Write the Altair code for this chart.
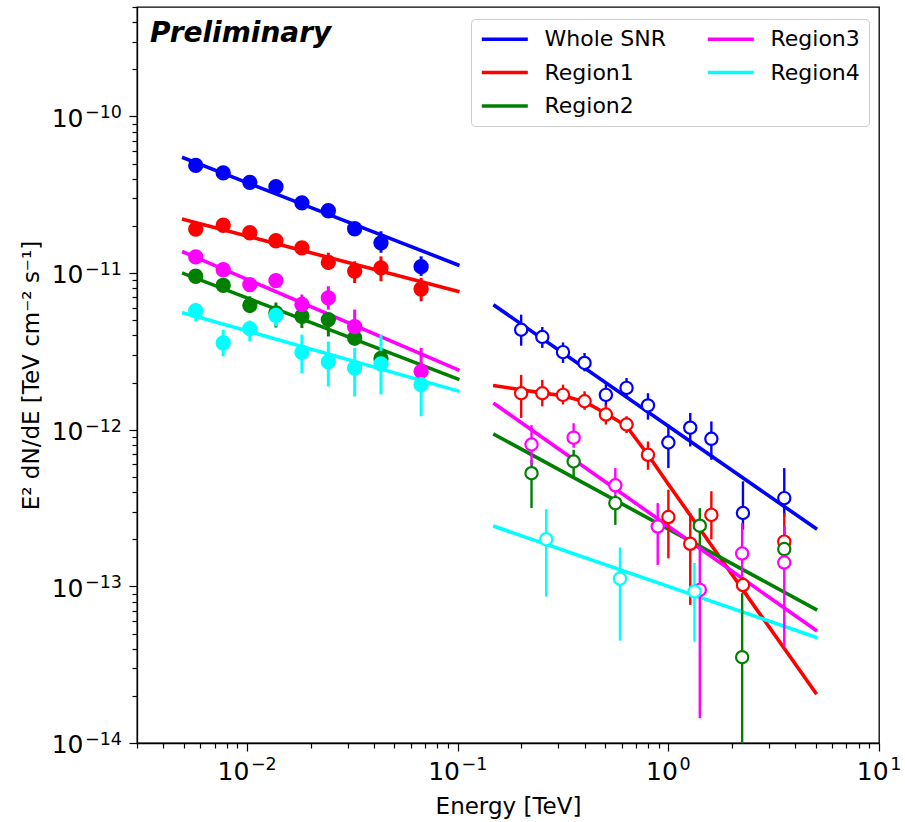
import altair as alt
import pandas as pd

SERIES = ["Whole SNR", "Region1", "Region2", "Region3", "Region4"]
COLORS = ["#0000ff", "#ff0000", "#008000", "#ff00ff", "#00ffff"]

# ---- Fermi-LAT band (filled markers), energies in TeV ----
lat_energy = [0.0057, 0.0077, 0.0103, 0.0137, 0.0182, 0.0243, 0.0324, 0.0432, 0.067]

lat_snr = [4.87e-11, 4.36e-11, 3.80e-11, 3.56e-11, 2.81e-11, 2.50e-11, 1.92e-11, 1.56e-11, 1.10e-11]
lat_snr_lo = [4.55e-11, 4.08e-11, 3.55e-11, 3.30e-11, 2.62e-11, 2.32e-11, 1.78e-11, 1.35e-11, 9.6e-12]
lat_snr_hi = [5.20e-11, 4.65e-11, 4.05e-11, 3.82e-11, 3.00e-11, 2.68e-11, 2.06e-11, 1.85e-11, 1.28e-11]

lat_r1 = [1.91e-11, 2.02e-11, 1.81e-11, 1.61e-11, 1.45e-11, 1.17e-11, 1.03e-11, 1.08e-11, 7.92e-12]
lat_r1_lo = [1.76e-11, 1.87e-11, 1.67e-11, 1.48e-11, 1.32e-11, 1.05e-11, 8.65e-12, 8.87e-12, 6.61e-12]
lat_r1_hi = [2.06e-11, 2.17e-11, 1.95e-11, 1.74e-11, 1.58e-11, 1.35e-11, 1.19e-11, 1.28e-11, 9.31e-12]

lat_r2_energy = [0.0057, 0.0077, 0.0103, 0.0137, 0.0182, 0.0243, 0.0324, 0.0432]
lat_r2 = [9.55e-12, 8.36e-12, 6.23e-12, 5.57e-12, 5.30e-12, 5.05e-12, 3.85e-12, 2.85e-12]
lat_r2_lo = [8.80e-12, 7.70e-12, 5.57e-12, 4.49e-12, 4.46e-12, 3.94e-12, 3.45e-12, 2.45e-12]
lat_r2_hi = [1.03e-11, 9.00e-12, 7.11e-12, 6.49e-12, 5.90e-12, 5.57e-12, 4.30e-12, 3.25e-12]

lat_r3_energy = [0.0057, 0.0077, 0.0103, 0.0137, 0.0182, 0.0243, 0.0324, 0.067]
lat_r3 = [1.27e-11, 1.05e-11, 8.45e-12, 8.96e-12, 6.30e-12, 6.95e-12, 4.55e-12, 2.36e-12]
lat_r3_lo = [1.17e-11, 9.60e-12, 7.70e-12, 8.10e-12, 5.60e-12, 5.85e-12, 3.58e-12, 1.80e-12]
lat_r3_hi = [1.37e-11, 1.14e-11, 9.20e-12, 9.80e-12, 7.30e-12, 8.24e-12, 5.85e-12, 3.33e-12]

lat_r4 = [5.75e-12, 3.58e-12, 4.42e-12, 5.37e-12, 3.12e-12, 2.71e-12, 2.48e-12, 2.63e-12, 1.94e-12]
lat_r4_lo = [4.92e-12, 2.94e-12, 3.66e-12, 4.57e-12, 2.30e-12, 1.89e-12, 1.63e-12, 1.68e-12, 1.22e-12]
lat_r4_hi = [6.46e-12, 4.35e-12, 4.98e-12, 6.14e-12, 4.05e-12, 3.66e-12, 3.33e-12, 4.05e-12, 2.54e-12]

# ---- high-energy band (open markers) ----
he_energy = [0.2, 0.252, 0.316, 0.4, 0.505, 0.633, 0.8, 1.0, 1.27, 1.6, 2.26, 3.55]

he_snr = [4.35e-12, 3.91e-12, 3.13e-12, 2.67e-12, 1.67e-12, 1.85e-12, 1.43e-12, 8.29e-13, 1.03e-12, 8.75e-13, 2.94e-13, 3.66e-13]
he_snr_lo = [3.44e-12, 3.33e-12, 2.67e-12, 2.36e-12, 1.42e-12, 1.63e-12, 1.16e-12, 5.69e-13, 7.82e-13, 6.43e-13, 2.30e-13, 2.80e-13]
he_snr_hi = [5.43e-12, 4.53e-12, 3.61e-12, 3.09e-12, 1.95e-12, 2.14e-12, 1.71e-12, 1.08e-12, 1.28e-12, 1.13e-12, 4.68e-13, 5.69e-13]

he_r1 = [1.71e-12, 1.71e-12, 1.67e-12, 1.52e-12, 1.25e-12, 1.08e-12, 6.92e-13, 2.77e-13, 1.87e-13, 2.86e-13, 1.02e-13, 1.93e-13]
he_r1_lo = [1.19e-12, 1.41e-12, 1.45e-12, 1.34e-12, 1.08e-12, 9.53e-13, 5.55e-13, 1.51e-13, 7.62e-14, 2.00e-13, 9.00e-14, 1.60e-13]
he_r1_hi = [2.24e-12, 2.08e-12, 1.94e-12, 1.76e-12, 1.45e-12, 1.22e-12, 8.41e-13, 4.14e-13, 2.94e-13, 4.05e-13, 1.15e-13, 2.94e-13]

he_r2_energy = [0.224, 0.355, 0.56, 1.41, 2.24, 3.55]
he_r2 = [5.28e-13, 6.27e-13, 3.40e-13, 2.44e-13, 3.53e-14, 1.73e-13]
he_r2_lo = [3.16e-13, 4.91e-13, 2.47e-13, 1.84e-13, 5.0e-15, 1.45e-13]
he_r2_hi = [6.40e-13, 7.44e-13, 3.84e-13, 3.16e-13, 9.04e-14, 2.40e-13]

he_r3_energy = [0.224, 0.355, 0.56, 0.89, 1.41, 2.24, 3.55]
he_r3 = [8.05e-13, 8.90e-13, 4.42e-13, 2.41e-13, 9.50e-14, 1.62e-13, 1.42e-13]
he_r3_lo = [5.97e-13, 7.67e-13, 3.84e-13, 1.37e-13, 1.44e-14, 1.16e-13, 4.12e-14]
he_r3_hi = [1.07e-12, 1.10e-12, 5.69e-13, 3.40e-13, 1.80e-13, 2.54e-13, 2.41e-13]

he_r4_energy = [0.263, 0.589, 1.33]
he_r4 = [2.00e-13, 1.12e-13, 9.27e-14]
he_r4_lo = [8.6e-14, 4.5e-14, 4.43e-14]
he_r4_hi = [3.11e-13, 1.77e-13, 1.41e-13]

# ---- spectral fits ----
lat_fit_energy = [0.005, 0.1]
lat_fit = {
    "Whole SNR": [5.44e-11, 1.13e-11],
    "Region1": [2.20e-11, 7.66e-12],
    "Region2": [9.93e-12, 2.11e-12],
    "Region3": [1.36e-11, 2.42e-12],
    "Region4": [5.57e-12, 1.77e-12],
}
he_fit_energy = [0.15, 5.0]
he_fit = {
    "Whole SNR": [6.19e-12, 2.35e-13],
    "Region2": [9.29e-13, 7.15e-14],
    "Region3": [1.46e-12, 5.27e-14],
    "Region4": [2.41e-13, 4.74e-14],
}
# curved model for Region1
r1_curve_energy = [0.15, 0.2, 0.25, 0.316, 0.4, 0.5, 0.63, 0.8, 1.0, 1.26, 1.6, 2.25, 3.2, 5.0]
r1_curve = [1.91e-12, 1.80e-12, 1.72e-12, 1.65e-12, 1.51e-12, 1.28e-12, 1.06e-12,
            6.92e-13, 4.49e-13, 2.89e-13, 1.83e-13, 9.57e-14, 4.89e-14, 2.09e-14]

# decade exponents that carry a tick label
x_label_exps = [-2, -1, 0, 1]
y_label_exps = [-14, -13, -12, -11, -10]

# ---- tables ----
point_rows = []


def add_points(series, band, energy, flux, lo, hi):
    for e, f, l, h in zip(energy, flux, lo, hi):
        point_rows.append({"series": series, "band": band, "E": e, "F": f, "lo": l, "hi": h})


add_points("Whole SNR", "LAT", lat_energy, lat_snr, lat_snr_lo, lat_snr_hi)
add_points("Region1", "LAT", lat_energy, lat_r1, lat_r1_lo, lat_r1_hi)
add_points("Region2", "LAT", lat_r2_energy, lat_r2, lat_r2_lo, lat_r2_hi)
add_points("Region3", "LAT", lat_r3_energy, lat_r3, lat_r3_lo, lat_r3_hi)
add_points("Region4", "LAT", lat_energy, lat_r4, lat_r4_lo, lat_r4_hi)
add_points("Whole SNR", "HE", he_energy, he_snr, he_snr_lo, he_snr_hi)
add_points("Region1", "HE", he_energy, he_r1, he_r1_lo, he_r1_hi)
add_points("Region2", "HE", he_r2_energy, he_r2, he_r2_lo, he_r2_hi)
add_points("Region3", "HE", he_r3_energy, he_r3, he_r3_lo, he_r3_hi)
add_points("Region4", "HE", he_r4_energy, he_r4, he_r4_lo, he_r4_hi)
points = pd.DataFrame(point_rows)

fit_rows = []
for s in SERIES:
    for e, f in zip(lat_fit_energy, lat_fit[s]):
        fit_rows.append({"series": s, "seg": s + " LAT", "E": e, "F": f})
    if s == "Region1":
        for e, f in zip(r1_curve_energy, r1_curve):
            fit_rows.append({"series": s, "seg": s + " HE", "E": e, "F": f})
    else:
        for e, f in zip(he_fit_energy, he_fit[s]):
            fit_rows.append({"series": s, "seg": s + " HE", "E": e, "F": f})
fits = pd.DataFrame(fit_rows)

# ---- log axes: ticks from the axis, "10^n" labels drawn as text ----
SUP_MINUS = "\u2212"
MAJOR = "abs(log(datum.value)/LN10 - round(log(datum.value)/LN10)) < 1e-6"


def log_ticks(lo_exp, hi_exp):
    return [float(f"{m}e{d}") for d in range(lo_exp, hi_exp + 1) for m in range(1, 10)]


x_ticks = [v for v in log_ticks(-3, 1) if 0.003 * 0.999 <= v <= 10 * 1.001]
y_ticks = [v for v in log_ticks(-14, -10) if 1e-14 * 0.999 <= v <= 5e-10 * 1.001]

tick_size = {"condition": {"test": MAJOR, "value": 8}, "value": 5}

x_axis = alt.Axis(
    values=x_ticks, labels=False, tickSize=tick_size, tickWidth=1.2,
    title="Energy [TeV]", titleFontSize=23, titlePadding=44, grid=False,
)
y_axis = alt.Axis(
    values=y_ticks, labels=False, tickSize=tick_size, tickWidth=1.2,
    title="E² dN/dE [TeV cm⁻² s⁻¹]", titleFontSize=23, titlePadding=85, grid=False,
)

x_scale = alt.Scale(type="log", domain=[0.003, 10])
y_scale = alt.Scale(type="log", domain=[1e-14, 5e-10])
col_scale = alt.Scale(domain=SERIES, range=COLORS)

X = alt.X("E:Q", scale=x_scale, axis=x_axis)
Y = alt.Y("F:Q", scale=y_scale, axis=y_axis)

lines = alt.Chart(fits).mark_line(strokeWidth=3.6, clip=True, strokeCap="square").encode(
    x=X,
    y=Y,
    detail="seg:N",
    stroke=alt.Stroke(
        "series:N", scale=col_scale,
        legend=alt.Legend(
            title=None, orient="none", legendX=334, legendY=12, columns=2,
            symbolType="M-1,0H4", symbolSize=339, symbolStrokeWidth=3.6,
            labelFont="DejaVu Sans", labelFontSize=22, labelColor="black", labelOffset=42,
            rowPadding=10.5, columnPadding=34, padding=8.5,
            strokeColor="#cccccc", cornerRadius=4, fillColor="white",
        ),
    ),
)

errors = alt.Chart(points).mark_rule(clip=True).encode(
    x=X,
    y=alt.Y("lo:Q", scale=y_scale, axis=y_axis),
    y2="hi:Q",
    color=alt.Color("series:N", scale=col_scale, legend=None),
    strokeWidth=alt.StrokeWidth("band:N", scale=alt.Scale(domain=["LAT", "HE"], range=[3, 2.4]), legend=None),
)

filled = alt.Chart(points).transform_filter(alt.datum.band == "LAT").mark_point(
    filled=True, size=235, opacity=1
).encode(x=X, y=Y, color=alt.Color("series:N", scale=col_scale, legend=None))

hollow = alt.Chart(points).transform_filter(alt.datum.band == "HE").mark_point(
    filled=False, fill="white", fillOpacity=1, size=150, strokeWidth=2.2, opacity=1
).encode(x=X, y=Y, color=alt.Color("series:N", scale=col_scale, legend=None))


def exp_text(k):
    return str(k).replace("-", SUP_MINUS)


# approximate DejaVu Sans advance widths (em) used to centre "10^n" under a tick
ADV = {SUP_MINUS: 0.838}
BASE_PX, EXP_PX, GAP = 25, 17.5, 1.6
BASE_W = 1.272 * BASE_PX


def exp_width(k):
    return sum(ADV.get(c, 0.636) for c in exp_text(k)) * EXP_PX


label_font = dict(font="DejaVu Sans", color="black")
tick_labels = []

# x axis: decades whose exponent has the same width share one pair of offsets
groups = {}
for k in x_label_exps:
    groups.setdefault(round(exp_width(k), 2), []).append(k)
for w, ks in groups.items():
    df = pd.DataFrame({"E": [10.0 ** k for k in ks], "base": ["10"] * len(ks),
                       "sup": [exp_text(k) for k in ks]})
    total = BASE_W + GAP + w
    tick_labels.append(
        alt.Chart(df).mark_text(align="right", baseline="alphabetic", fontSize=BASE_PX,
                                dx=-total / 2 + BASE_W, **label_font)
        .encode(x=X, y=alt.value(773), text="base:N"))
    tick_labels.append(
        alt.Chart(df).mark_text(align="left", baseline="alphabetic", fontSize=EXP_PX,
                                dx=-total / 2 + BASE_W + GAP, **label_font)
        .encode(x=X, y=alt.value(763), text="sup:N"))

# y axis labels
ydf = pd.DataFrame({"F": [10.0 ** k for k in y_label_exps], "base": ["10"] * len(y_label_exps),
                    "sup": [exp_text(k) for k in y_label_exps]})
tick_labels.append(
    alt.Chart(ydf).mark_text(align="right", baseline="alphabetic", fontSize=BASE_PX, dy=10.3,
                             **label_font)
    .encode(y=Y, x=alt.value(-53.5), text="base:N"))
tick_labels.append(
    alt.Chart(ydf).mark_text(align="left", baseline="alphabetic", fontSize=EXP_PX, dy=2,
                             **label_font)
    .encode(y=Y, x=alt.value(-52), text="sup:N"))

stamp = alt.Chart(pd.DataFrame({"t": ["Preliminary"]})).mark_text(
    align="left", baseline="alphabetic", font="DejaVu Sans", fontSize=28,
    fontWeight="bold", fontStyle="italic", color="black",
).encode(text="t:N", x=alt.value(13), y=alt.value(35))

chart = alt.layer(lines, errors, filled, hollow, stamp, *tick_labels).properties(
    width=742, height=736, autosize="none",
    padding={"left": 137, "top": 7, "right": 26, "bottom": 79},
).configure_view(stroke="black", strokeWidth=1.3).configure_axis(
    domainColor="black", domainWidth=1.3, tickColor="black",
    titleColor="black", titleFont="DejaVu Sans", titleFontWeight="normal",
)

chart.save("out.html", embed_options={"renderer": "svg", "actions": False})
